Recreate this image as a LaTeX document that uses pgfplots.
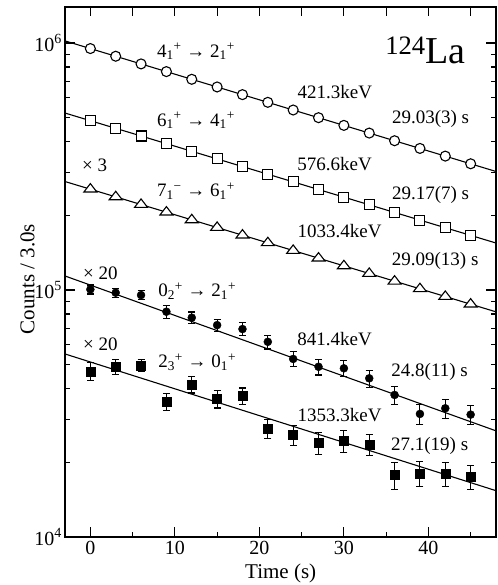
\documentclass[border=0pt]{standalone}
\usepackage{pgfplots}
\pgfplotsset{compat=1.18}
\usepackage{fontspec}
\setmainfont{Liberation Serif}
\begin{document}
\begin{tikzpicture}[font=\fontsize{19}{23}\selectfont]
\begin{axis}[
  at={(0,0)}, anchor=south west,
  scale only axis, width=431pt, height=530pt,
  ymode=log, xmin=-3, xmax=48, ymin=1e4, ymax=1.4e6,
  clip=false,
  axis line style={line width=1.8pt},
  xtick={0,10,20,30,40}, xticklabels={0,10,20,30,40},
  minor xtick={5,15,25,35,45},
  xtick pos=left,
  ytick={1e4,1e5,1e6},
  yticklabels={10\textsuperscript{4},10\textsuperscript{5},10\textsuperscript{6}},
  minor ytick={2e4,3e4,4e4,5e4,6e4,7e4,8e4,9e4,2e5,3e5,4e5,5e5,6e5,7e5,8e5,9e5},
  ytick pos=both,
  tick align=inside,
  major tick length=10pt, minor tick length=5pt,
  every tick/.style={line width=1.2pt, black},
  tick label style={font=\fontsize{20}{24}\selectfont},
  xticklabel style={inner sep=0pt, yshift=-4.5pt},
  yticklabel style={inner sep=0pt, xshift=-3pt},
]
% fit lines
\addplot[black, line width=1.1pt, no marks] coordinates {(-3,1020500) (48,302000)};
\addplot[black, line width=1.1pt, no marks] coordinates {(-3,520800) (48,155000)};
\addplot[black, line width=1.1pt, no marks] coordinates {(-3,275000) (48,81600)};
\addplot[black, line width=1.1pt, no marks] coordinates {(-3,114000) (48,26900)};
\addplot[black, line width=1.1pt, no marks] coordinates {(-3,55100) (48,15400)};
% 4+ -> 2+
\addplot[only marks, mark=*, mark size=5pt, mark options={fill=white, draw=black, line width=1.1pt}]
coordinates {(0,950000) (3,884400) (6,823300) (9,766400) (12,713400) (15,664100) (18,618200) (21,575500)
(24,535700) (27,498700) (30,464200) (33,432100) (36,402300) (39,374500) (42,348600) (45,324500)};
% 6+ -> 4+
\addplot[only marks, mark=square*, mark size=5pt, mark options={fill=white, draw=black, line width=1.1pt}]
coordinates {(0,485000) (3,451600) (6,420600) (9,391600) (12,364700) (15,339600) (18,316200) (21,294500)
(24,274200) (27,255400) (30,237800) (33,221400) (36,206200) (39,192000) (42,178800) (45,166500)};
% 7- -> 6+
\addplot[only marks, mark=triangle*, mark size=7.5pt, mark options={fill=white, draw=black, line width=1.1pt, yscale=0.75}]
coordinates {(0,256000) (3,238300) (6,221900) (9,206600) (12,192300) (15,179100) (18,166700) (21,155200)
(24,144500) (27,134500) (30,125200) (33,116600) (36,108500) (39,101100) (42,94100) (45,87600)};
% 0+ -> 2+
\addplot[only marks, mark=*, mark size=4pt, black,
  error bars/.cd, y dir=both, y explicit,
  error bar style={line width=1.1pt, black},
  error mark options={rotate=90, line width=1.1pt, mark size=3.5pt, black}]
table[x=t, y=n, y error=e] {
t n e
0 100600 4200
3 97500 3900
6 95400 4000
9 81700 5000
12 77300 4200
15 72100 4000
18 69500 4200
21 61700 4000
24 52600 3700
27 48900 3600
30 48200 3600
33 43900 3500
36 37600 3200
39 31500 2900
42 33200 2900
45 31300 2800
};
% 2+ -> 0+
\addplot[only marks, mark=square*, mark size=4.5pt, black,
  error bars/.cd, y dir=both, y explicit,
  error bar style={line width=1.1pt, black},
  error mark options={rotate=90, line width=1.1pt, mark size=3.5pt, black}]
table[x=t, y=n, y error=e] {
t n e
0 46900 3800
3 48900 3300
6 49500 2900
9 35300 2800
12 41500 3200
15 36200 2900
18 37200 2900
21 27500 2400
24 25900 2400
27 24100 2500
30 24500 2500
33 23700 2300
36 17800 2200
39 18100 2100
42 18000 2050
45 17500 1900
};
% labels
\node[anchor=base] at (axis cs:12.49,877600) {4\textsubscript{1}\textsuperscript{+} → 2\textsubscript{1}\textsuperscript{+}};
\node[anchor=base] at (axis cs:28.93,597000) {421.3keV};
\node[anchor=base] at (axis cs:40.26,473000) {29.03(3) s};
\node[anchor=base] at (axis cs:12.49,461000) {6\textsubscript{1}\textsuperscript{+} → 4\textsubscript{1}\textsuperscript{+}};
\node[anchor=base] at (axis cs:28.9,306000) {576.6keV};
\node[anchor=base] at (axis cs:40.26,232800) {29.17(7) s};
\node[anchor=base] at (axis cs:0.5,301000) {× 3};
\node[anchor=base] at (axis cs:12.49,238800) {7\textsubscript{1}\textsuperscript{−} → 6\textsubscript{1}\textsuperscript{+}};
\node[anchor=base] at (axis cs:29.5,163500) {1033.4keV};
\node[anchor=base] at (axis cs:40.8,126200) {29.09(13) s};
\node[anchor=base] at (axis cs:1.18,110500) {× 20};
\node[anchor=base] at (axis cs:12.64,93900) {0\textsubscript{2}\textsuperscript{+} → 2\textsubscript{1}\textsuperscript{+}};
\node[anchor=base] at (axis cs:28.9,59900) {841.4keV};
\node[anchor=base] at (axis cs:40.15,44600) {24.8(11) s};
\node[anchor=base] at (axis cs:1.18,56800) {× 20};
\node[anchor=base] at (axis cs:12.64,48600) {2\textsubscript{3}\textsuperscript{+} → 0\textsubscript{1}\textsuperscript{+}};
\node[anchor=base] at (axis cs:29.5,29300) {1353.3keV};
\node[anchor=base] at (axis cs:40.15,22400) {27.1(19) s};
\node[anchor=base, font=\fontsize{38}{42}\selectfont] at (axis cs:39.66,827800) {\textsuperscript{124}La};
% axis labels
\node[anchor=base, rotate=90, font=\fontsize{21}{25}\selectfont] at (rel axis cs:-0.0708,0.4868) {Counts / 3.0s};
\node[anchor=base, font=\fontsize{21}{25}\selectfont] at (rel axis cs:0.5005,-0.0779) {Time (s)};
\end{axis}
\begin{axis}[
  at={(0,0)}, anchor=south west,
  scale only axis, width=431pt, height=530pt,
  xmin=-3, xmax=48, ymin=0, ymax=1,
  axis line style={draw=none},
  xtick={0,5,...,45}, xticklabels={},
  xtick pos=right, ytick=\empty,
  tick align=inside, major tick length=9pt,
  every tick/.style={line width=1.2pt, black},
]
\end{axis}
\pgfresetboundingbox
\useasboundingbox (-65pt,-48pt) rectangle (432pt,537pt);
\end{tikzpicture}
\end{document}
